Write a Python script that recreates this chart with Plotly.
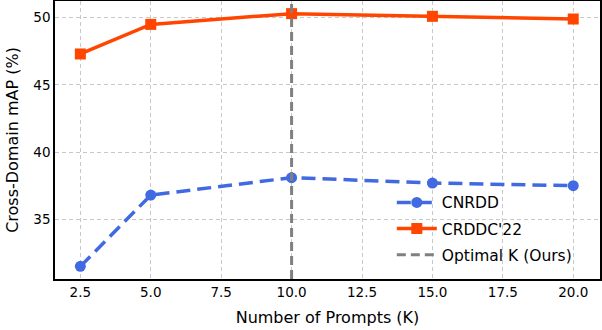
import plotly.graph_objects as go

prompts = [2.5, 5.0, 10.0, 15.0, 20.0]
cnrdd = [31.5, 36.8, 38.1, 37.7, 37.5]
crddc22 = [47.3, 49.5, 50.3, 50.1, 49.9]
optimal_k = 10.0
x_ticks = [2.5, 5.0, 7.5, 10.0, 12.5, 15.0, 17.5, 20.0]
y_ticks = [35, 40, 45, 50]
y_range = [30.56, 51.24]
x_range = [1.6, 20.95]

FONT = "DejaVu Sans, sans-serif"

fig = go.Figure()
fig.add_trace(go.Scatter(
    x=prompts, y=cnrdd, mode="lines+markers", name="CNRDD", legendgroup="a",
    line=dict(color="#4169E1", width=3.5, dash="14px,7px"),
    marker=dict(symbol="circle", size=11, color="#4169E1"),
))
fig.add_trace(go.Scatter(
    x=prompts, y=crddc22, mode="lines+markers", name="CRDDC'22", legendgroup="b",
    line=dict(color="#FF4500", width=3.5),
    marker=dict(symbol="square", size=11, color="#FF4500"),
))
fig.add_trace(go.Scatter(
    x=[optimal_k, optimal_k], y=y_range, mode="lines", name="Optimal K (Ours)", legendgroup="c",
    line=dict(color="#808080", width=3, dash="9px,5px"),
))

axis_common = dict(
    showgrid=True, gridcolor="#c8c8c8", gridwidth=1, griddash="4px,3px",
    showline=True, linecolor="black", linewidth=1.5, mirror=True,
    zeroline=False, ticks="", automargin=False,
    tickfont=dict(size=13.5, color="black", family=FONT),
)
fig.update_xaxes(range=x_range, tickvals=x_ticks, ticktext=[f"{v:.1f}" for v in x_ticks],
                 title=dict(text="Number of Prompts (K)", font=dict(size=16, color="black", family=FONT), standoff=13),
                 **axis_common)
fig.update_yaxes(range=y_range, tickvals=y_ticks,
                 title=dict(text="Cross-Domain mAP (%)", font=dict(size=16, color="black", family=FONT), standoff=11),
                 **axis_common)

fig.update_layout(
    width=602, height=330,
    margin=dict(l=55, r=2, t=1, b=51),
    plot_bgcolor="white", paper_bgcolor="white",
    font=dict(family=FONT, color="black"),
    legend=dict(x=0.618, y=0.335, xanchor="left", yanchor="top",
                bgcolor="rgba(255,255,255,0)", font=dict(size=15.5, family=FONT),
                tracegroupgap=3, itemwidth=40),
    showlegend=True,
)

fig.write_html("out.html", config={"displayModeBar": False},
               post_script="document.body.style.margin='0';document.body.style.overflow='hidden';")
